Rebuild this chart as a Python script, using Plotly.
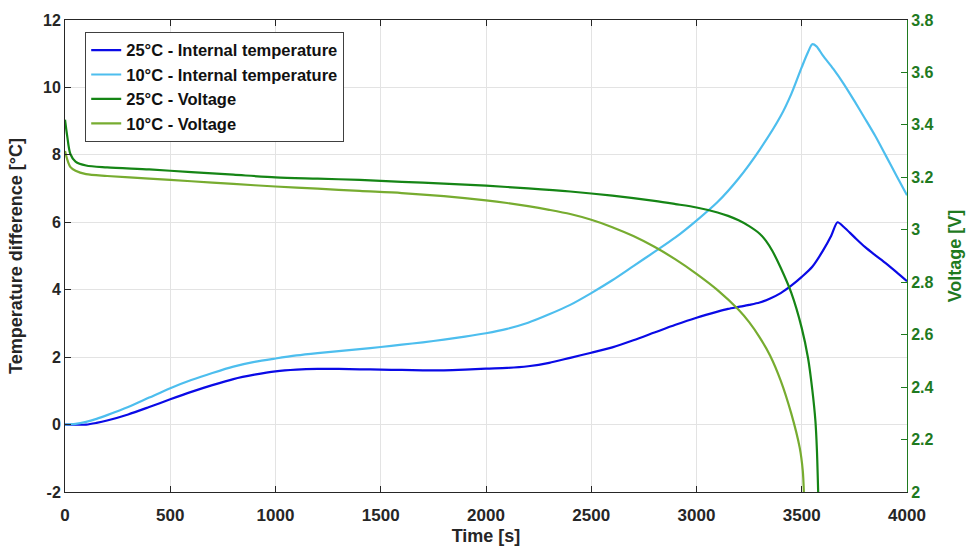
import plotly.graph_objects as go

# Internal temperature rise, 25 °C ambient
t_temp25 = [0, 100, 150, 200, 300, 400, 500, 600, 700, 800, 900, 1000, 1100, 1200,
            1300, 1400, 1500, 1600, 1700, 1800, 1900, 2000, 2100, 2200, 2300, 2400,
            2500, 2600, 2700, 2800, 2900, 3000, 3100, 3150, 3200, 3250, 3300, 3350, 3400,
            3450, 3500, 3550, 3600, 3640, 3670, 3700, 3750, 3800, 3850, 3900, 3950, 4000]
temp25 = [0.0, 0.0, 0.05, 0.12, 0.3, 0.52, 0.75, 0.97, 1.17, 1.35, 1.48, 1.58, 1.63, 1.65,
          1.65, 1.64, 1.63, 1.62, 1.61, 1.61, 1.63, 1.66, 1.68, 1.73, 1.83, 1.98,
          2.13, 2.29, 2.5, 2.73, 2.96, 3.17, 3.35, 3.43, 3.49, 3.55, 3.62, 3.74, 3.9,
          4.12, 4.38, 4.68, 5.15, 5.6, 6.0, 5.86, 5.56, 5.27, 5.02, 4.78, 4.52, 4.25]

# Internal temperature rise, 10 °C ambient
t_temp10 = [0, 50, 100, 150, 200, 300, 400, 500, 600, 700, 800, 900, 1000, 1100, 1200,
            1300, 1400, 1500, 1600, 1700, 1800, 1900, 2000, 2100, 2200, 2300, 2400, 2500,
            2600, 2700, 2800, 2900, 3000, 3100, 3200, 3300, 3400, 3450, 3500, 3530, 3550,
            3570, 3600, 3650, 3700, 3750, 3800, 3850, 3900, 3950, 4000]
temp10 = [0.0, 0.02, 0.08, 0.17, 0.28, 0.52, 0.8, 1.08, 1.32, 1.53, 1.72, 1.86, 1.96, 2.05, 2.12,
          2.18, 2.24, 2.3, 2.37, 2.44, 2.52, 2.61, 2.71, 2.84, 3.02, 3.27, 3.55, 3.9,
          4.28, 4.7, 5.12, 5.55, 6.05, 6.6, 7.3, 8.15, 9.15, 9.8, 10.6, 11.05, 11.28,
          11.22, 10.95, 10.55, 10.1, 9.6, 9.08, 8.55, 7.97, 7.38, 6.8]

# Cell voltage, 25 °C ambient
t_volt25 = [0, 10, 25, 50, 100, 200, 400, 600, 800, 1000, 1200, 1400, 1600, 1800, 2000,
            2200, 2400, 2600, 2800, 2900, 3000, 3100, 3150, 3200, 3250, 3300, 3330, 3360,
            3400, 3450, 3500, 3530, 3550, 3565, 3572, 3578]
volt25 = [3.42, 3.36, 3.29, 3.26, 3.245, 3.238, 3.23, 3.22, 3.21, 3.2, 3.195, 3.19, 3.183,
          3.176, 3.168, 3.158, 3.146, 3.13, 3.11, 3.098, 3.085, 3.066, 3.053, 3.036, 3.014,
          2.985, 2.958, 2.92, 2.855, 2.76, 2.625, 2.51, 2.39, 2.27, 2.16, 2.0]

# Cell voltage, 10 °C ambient
t_volt10 = [0, 10, 25, 50, 100, 200, 400, 600, 800, 1000, 1200, 1400, 1600, 1800, 2000,
            2100, 2200, 2300, 2400, 2500, 2600, 2700, 2800, 2900, 3000, 3100, 3200, 3250,
            3300, 3350, 3400, 3450, 3490, 3505, 3510]
volt10 = [3.3, 3.27, 3.24, 3.225, 3.212, 3.205, 3.195, 3.185, 3.175, 3.165, 3.157, 3.148,
          3.14, 3.128, 3.112, 3.102, 3.09, 3.076, 3.06, 3.038, 3.01, 2.976, 2.935, 2.887,
          2.832, 2.77, 2.695, 2.648, 2.59, 2.52, 2.425, 2.3, 2.17, 2.08, 2.0]

x_ticks = [0, 500, 1000, 1500, 2000, 2500, 3000, 3500, 4000]
temp_ticks = [-2, 0, 2, 4, 6, 8, 10, 12]

FONT = "Liberation Sans, Arial, sans-serif"
AXIS_GREEN = "#1f7a1f"
line_style = dict(width=2.2, shape="spline", smoothing=0.8)

fig = go.Figure()
fig.add_trace(go.Scatter(x=t_temp25, y=temp25, mode="lines",
                         name="25°C - Internal temperature",
                         line=dict(color="#0a0ae6", **line_style)))
fig.add_trace(go.Scatter(x=t_temp10, y=temp10, mode="lines",
                         name="10°C - Internal temperature",
                         line=dict(color="#4dbeee", **line_style)))
fig.add_trace(go.Scatter(x=t_volt25, y=volt25, mode="lines", yaxis="y2",
                         name="25°C - Voltage",
                         line=dict(color="#158515", **line_style)))
fig.add_trace(go.Scatter(x=t_volt10, y=volt10, mode="lines", yaxis="y2",
                         name="10°C - Voltage",
                         line=dict(color="#77ac30", **line_style)))

tick_font = dict(family=FONT, size=16, color="#262626", weight="bold")
title_font = dict(family=FONT, size=18, color="#262626", weight="bold")

fig.update_layout(
    width=973, height=554,
    margin=dict(l=65, r=64, t=18, b=62),
    paper_bgcolor="white", plot_bgcolor="white",
    font=dict(family=FONT),
    showlegend=True,
    legend=dict(x=0.024, y=0.975, xanchor="left", yanchor="top",
                bgcolor="white", bordercolor="#404040", borderwidth=1,
                font=dict(family=FONT, size=16.5, color="#111111", weight="bold"),
                itemwidth=30, tracegroupgap=0),
    xaxis=dict(range=[0, 4000], tickvals=x_ticks,
               title=dict(text="Time [s]", font=title_font, standoff=4),
               tickfont=dict(family=FONT, size=17, color="#262626", weight="bold"),
               ticklabelstandoff=8,
               showgrid=True, gridcolor="#e3e3e3", gridwidth=1,
               showline=True, linecolor="#262626", linewidth=1, mirror="ticks",
               ticks="inside", ticklen=6, tickcolor="#262626", zeroline=False),
    yaxis=dict(range=[-2, 12], tickvals=temp_ticks, ticktext=[str(v) for v in temp_ticks],
               title=dict(text="Temperature difference [°C]", font=title_font),
               tickfont=tick_font, showgrid=True, gridcolor="#e3e3e3", gridwidth=1,
               showline=True, linecolor="#262626", linewidth=1,
               ticks="inside", ticklen=6, tickcolor="#262626", zeroline=False),
    yaxis2=dict(range=[2, 3.8], dtick=0.2, overlaying="y", side="right",
                title=dict(text="Voltage [V]", font=dict(family=FONT, size=18, color=AXIS_GREEN, weight="bold")),
                tickfont=dict(family=FONT, size=16, color=AXIS_GREEN, weight="bold"),
                showgrid=False, showline=True, linecolor=AXIS_GREEN, linewidth=1,
                ticks="inside", ticklen=6, tickcolor=AXIS_GREEN, zeroline=False),
)

fig.write_html("out.html")
